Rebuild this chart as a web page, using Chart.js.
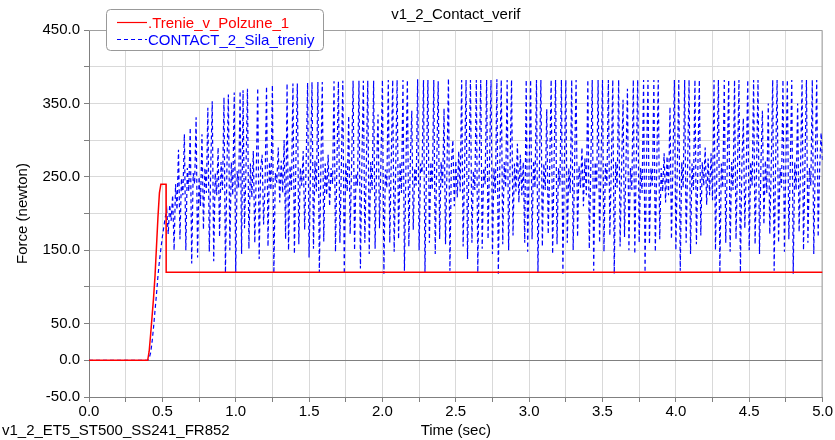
<!DOCTYPE html>
<html>
<head>
<meta charset="utf-8">
<title>v1_2_Contact_verif</title>
<script src="https://cdn.jsdelivr.net/npm/chart.js@4.4.1/dist/chart.umd.min.js"></script>
<style>
  body { margin: 0; background: #fff; }
  canvas { display: block; }
</style>
</head>
<body>
<canvas id="forceChart" width="835" height="440"></canvas>
<script>
var plotTitle = "v1_2_Contact_verif"
var runName = "v1_2_ET5_ST500_SS241_FR852"
var seriesNames = [".Trenie_v_Polzune_1", "CONTACT_2_Sila_treniy"]

// friction in the slider, sparse breakpoints (sec, newton)
var trenieTime  = [0, 0.40, 0.41, 0.42, 0.43, 0.44, 0.45, 0.46, 0.47, 0.48, 0.49, 0.525, 0.526, 5.0]
var trenieForce = [0, 0, 12, 35, 60, 85, 115, 155, 195, 228, 240, 240, 120, 120]

// contact friction force, sampled every 0.01 sec from 0.00 to 5.00
var contactStep = 0.01
var contactForce = [
  0, 0, 0, 0, 0, 0, 0, 0, 0, 0,
  0, 0, 0, 0, 0, 0, 0, 0, 0, 0,
  0, 0, 0, 0, 0, 0, 0, 0, 0, 0,
  0, 0, 0, 0, 0, 0, 0, 0, 0, 0,
  0, 3, 10, 25, 45, 68, 90, 115, 135, 152,
  168, 182, 195, 205, 172, 212, 190, 225, 150, 240,
  205, 287, 165, 248, 225, 308, 150, 262, 230, 317,
  132, 255, 240, 331, 140, 250, 210, 308, 178, 262,
  228, 344, 148, 265, 353, 135, 255, 225, 290, 168,
  270, 232, 358, 119, 262, 362, 150, 270, 225, 365,
  120, 258, 235, 367, 145, 368, 180, 260, 370, 152,
  268, 222, 285, 160, 255, 371, 138, 262, 280, 185,
  240, 373, 155, 270, 232, 375, 118, 255, 242, 290,
  215, 272, 228, 300, 165, 377, 150, 265, 232, 377,
  145, 270, 377, 158, 262, 238, 285, 178, 268, 378,
  140, 260, 379, 152, 272, 230, 379, 120, 258, 379,
  162, 268, 225, 280, 210, 262, 240, 380, 148, 270,
  380, 160, 262, 381, 118, 270, 230, 333, 172, 265,
  381, 150, 255, 238, 381, 125, 268, 381, 160, 262,
  381, 145, 270, 232, 381, 152, 262, 335, 180, 272,
  382, 118, 260, 235, 382, 160, 268, 382, 148, 258,
  382, 165, 270, 228, 382, 122, 262, 382, 155, 270,
  340, 178, 262, 238, 383, 150, 268, 255, 382, 120,
  262, 382, 160, 270, 232, 382, 145, 265, 380, 165,
  270, 235, 343, 158, 262, 384, 122, 268, 300, 210,
  272, 222, 285, 230, 382, 155, 262, 382, 138, 270,
  382, 160, 258, 232, 382, 120, 268, 382, 152, 262,
  240, 382, 165, 270, 382, 145, 262, 228, 383, 118,
  265, 382, 158, 270, 235, 382, 150, 262, 382, 170,
  268, 230, 295, 215, 280, 225, 270, 160, 382, 148,
  265, 382, 165, 272, 235, 382, 120, 260, 382, 155,
  268, 232, 342, 172, 262, 382, 145, 270, 382, 158,
  262, 238, 382, 118, 268, 382, 160, 262, 228, 382,
  150, 270, 382, 168, 265, 235, 290, 210, 275, 225,
  382, 152, 262, 382, 122, 270, 232, 382, 160, 265,
  382, 148, 268, 238, 382, 170, 262, 382, 118, 270,
  235, 382, 155, 262, 355, 168, 270, 370, 150, 262,
  232, 382, 145, 268, 382, 160, 262, 228, 382, 120,
  270, 382, 158, 262, 238, 382, 148, 268, 382, 165,
  262, 230, 282, 215, 278, 225, 345, 165, 268, 382,
  150, 262, 382, 122, 270, 235, 382, 160, 262, 382,
  145, 268, 232, 382, 158, 262, 382, 170, 270, 238,
  290, 212, 275, 225, 282, 218, 382, 150, 262, 382,
  118, 268, 235, 382, 160, 262, 382, 148, 270, 232,
  382, 165, 262, 382, 120, 268, 330, 180, 262, 382,
  150, 270, 238, 382, 158, 262, 382, 145, 268, 340,
  185, 272, 228, 350, 172, 262, 382, 122, 270, 382,
  160, 262, 235, 382, 148, 268, 382, 165, 262, 382,
  118, 270, 232, 350, 175, 262, 382, 150, 268, 382,
  160, 262, 238, 382, 145, 270, 382, 168, 262, 310,
  270
]

var FONT = "'Liberation Sans', Arial, sans-serif"
var red = "#ff0000"
var blue = "#0000ff"

var trenieData = []
for (var i = 0; i < trenieTime.length; i++) {
  trenieData.push({x: trenieTime[i], y: trenieForce[i]})
}
var contactData = []
for (var j = 0; j < contactForce.length; j++) {
  contactData.push({x: j / 100, y: contactForce[j]})
}

// title, legend box, run name and the frame on top/right
var decorations = {
  id: "decorations",
  beforeDatasetsDraw: function(chart) {
    var c = chart.ctx
    var a = chart.chartArea
    c.save()
    c.strokeStyle = "#a0a0a0"
    c.lineWidth = 1
    c.beginPath()
    c.moveTo(a.left, a.top + 0.5)
    c.lineTo(a.right - 0.5, a.top + 0.5)
    c.lineTo(a.right - 0.5, a.bottom)
    c.stroke()
    c.restore()
  },
  afterDraw: function(chart) {
    var c = chart.ctx
    var a = chart.chartArea
    c.save()
    c.font = "15px " + FONT
    c.fillStyle = "#000"
    c.textBaseline = "middle"
    c.textAlign = "center"
    c.fillText(plotTitle, (a.left + a.right) / 2, 15)
    c.textAlign = "left"
    c.fillText(runName, 2, 431)

    // legend
    c.beginPath()
    c.roundRect(106.5, 9.5, 217, 41, 4)
    c.fillStyle = "#fff"
    c.fill()
    c.strokeStyle = "#999"
    c.lineWidth = 1
    c.stroke()

    var ds = chart.data.datasets
    var rows = [22.5, 39.5]
    for (var k = 0; k < ds.length; k++) {
      c.beginPath()
      c.strokeStyle = ds[k].borderColor
      c.lineWidth = 1.2
      c.setLineDash(ds[k].borderDash || [])
      c.moveTo(117, rows[k])
      c.lineTo(147, rows[k])
      c.stroke()
      c.setLineDash([])
      c.fillStyle = ds[k].borderColor
      c.fillText(ds[k].label, 148, rows[k] + 1)
    }
    c.restore()
  }
}

new Chart(document.getElementById("forceChart"), {
  type: "line",
  data: {
    datasets: [
      {
        label: seriesNames[0],
        data: trenieData,
        borderColor: red,
        borderWidth: 1.5,
        pointRadius: 0,
        tension: 0
      },
      {
        label: seriesNames[1],
        data: contactData,
        borderColor: blue,
        borderWidth: 1.2,
        borderDash: [4, 3],
        pointRadius: 0,
        tension: 0
      }
    ]
  },
  options: {
    responsive: false,
    animation: false,
    events: [],
    layout: { padding: { top: 30, right: 12, left: 0, bottom: 0 } },
    plugins: {
      legend: { display: false },
      tooltip: { enabled: false }
    },
    scales: {
      x: {
        type: "linear",
        min: 0,
        max: 5,
        afterFit: function(s) { s.height = 43 },
        ticks: {
          stepSize: 0.25,
          autoSkip: false,
          maxRotation: 0,
          padding: 2,
          color: "#000",
          font: { family: FONT, size: 15, lineHeight: 1 },
          callback: function(v) {
            return Math.abs(v * 2 - Math.round(v * 2)) < 1e-6 ? v.toFixed(1) : ""
          }
        },
        grid: { color: "#d9d9d9", tickColor: "#808080", tickLength: 5 },
        border: { color: "#808080" },
        title: {
          display: true,
          text: "Time (sec)",
          color: "#000",
          font: { family: FONT, size: 15, lineHeight: 1.2 },
          padding: { top: 0, bottom: 0 }
        }
      },
      y: {
        min: -50,
        max: 450,
        afterFit: function(s) { s.width = 89 },
        ticks: {
          stepSize: 50,
          padding: 4,
          color: "#000",
          font: { family: FONT, size: 15 },
          callback: function(v) {
            return (v === 0 || (v + 50) % 100 === 0) ? v.toFixed(1) : ""
          }
        },
        grid: {
          color: function(ctx) { return ctx.tick && ctx.tick.value === 0 ? "#808080" : "#d9d9d9" },
          tickColor: "#808080",
          tickLength: 5
        },
        border: { color: "#808080" },
        title: {
          display: true,
          text: "Force (newton)",
          color: "#000",
          font: { family: FONT, size: 15 },
          padding: { top: 14, bottom: 0 }
        }
      }
    }
  },
  plugins: [decorations]
});
</script>
</body>
</html>
